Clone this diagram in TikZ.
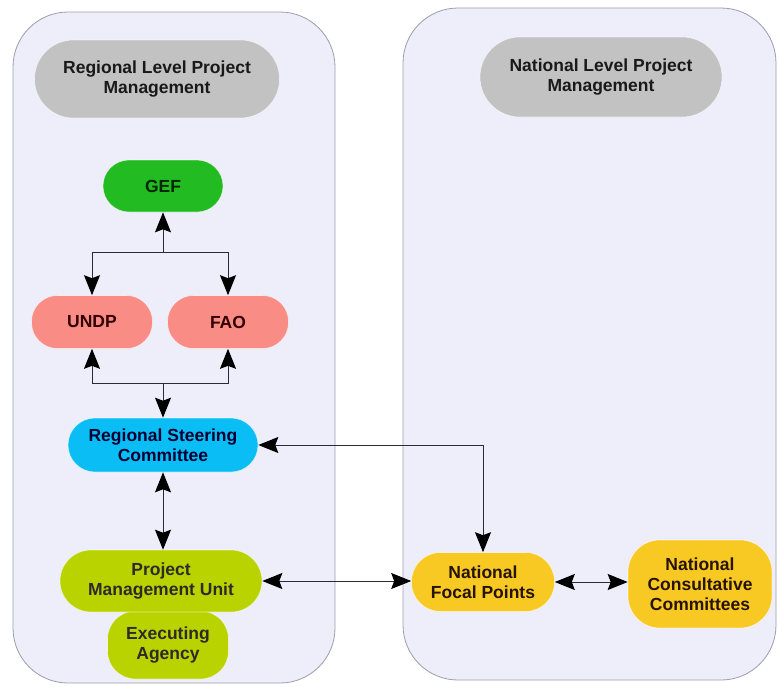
\documentclass[tikz,border=0pt]{standalone}
\usepackage{fontspec}
\setmainfont{Liberation Sans}
\usetikzlibrary{arrows.meta}
\definecolor{panelfill}{HTML}{EEEEFB}
\definecolor{panelline}{HTML}{9C9CAC}
\definecolor{headgray}{HTML}{C2C2C2}
\definecolor{gefgreen}{HTML}{22BB22}
\definecolor{salmon}{HTML}{F98C85}
\definecolor{skyblue}{HTML}{0ABEF5}
\definecolor{limey}{HTML}{B9D300}
\definecolor{gold}{HTML}{F8C923}
\definecolor{linecol}{HTML}{2A2A3A}
\tikzset{
  panel/.style={draw=panelline, fill=panelfill, line width=0.8pt, rounded corners=55},
  blob/.style={rectangle, align=center, font=\fontsize{17.5}{20}\selectfont\bfseries, inner sep=0pt, draw=white, draw opacity=0.6, line width=0.6pt},
  conn/.style={draw=linecol, line width=1pt, >={Stealth[length=20pt, width=16pt, inset=3pt, color=black]}},
}
\begin{document}
\begin{tikzpicture}[x=1pt, y=-1pt]
\useasboundingbox (0,0) rectangle (778,686);
\fill[white] (0,0) rectangle (778,686);
% panels
\draw[panel] (13,12) rectangle (335,683);
\draw[panel] (403,8) rectangle (776,680);
% headers
\node[blob, fill=headgray, minimum width=245pt, minimum height=78pt, rounded corners=39pt, text=black!90] (rhead) at (157,79) {Regional Level Project\\Management};
\node[blob, fill=headgray, minimum width=242pt, minimum height=80pt, rounded corners=40pt, text=black!90] (nhead) at (601,77) {National Level Project\\Management};
% regional nodes
\node[blob, fill=gefgreen, minimum width=120pt, minimum height=52pt, rounded corners=26pt, text=black!85!green] (gef) at (163,186) {GEF};
\node[blob, fill=salmon, minimum width=121pt, minimum height=53pt, rounded corners=26pt, text=black!80!red] (undp) at (92,322) {UNDP};
\node[blob, fill=salmon, minimum width=121pt, minimum height=53pt, rounded corners=26pt, text=black!80!red] (fao) at (228,322) {FAO};
\node[blob, fill=skyblue, minimum width=190pt, minimum height=54pt, rounded corners=27pt, text=black!80!blue] (rsc) at (163,445) {Regional Steering\\Committee};
\node[blob, fill=limey, minimum width=121pt, minimum height=68pt, rounded corners=28pt, text=black!90!olive] (ea) at (168,645) {Executing\\Agency};
\node[blob, fill=limey, minimum width=202pt, minimum height=62pt, rounded corners=31pt, text=black!90!olive] (pmu) at (161,581) {Project\\Management Unit};
% national nodes
\node[blob, fill=gold, minimum width=143pt, minimum height=59pt, rounded corners=29pt, text=black!85!orange] (nfp) at (483,582) {National\\Focal Points};
\node[blob, fill=gold, minimum width=144pt, minimum height=88pt, rounded corners=32pt, text=black!85!orange] (ncc) at (700,584) {National\\Consultative\\Committees};
% junctions
\coordinate (jtop) at (163,252);
\coordinate (jbot) at (163,383);
% connectors
\draw[conn, ->] (jtop) -- (gef.south);
\draw[conn, ->] (jtop) -| (undp.north);
\draw[conn, ->] (jtop) -| (fao.north);
\draw[conn, ->] (jbot) -| (undp.south);
\draw[conn, ->] (jbot) -| (fao.south);
\draw[conn, ->] (jbot) -- (rsc.north);
\draw[conn, <->] (rsc.east) -| (nfp.north);
\draw[conn, <->] (rsc.south) -- (rsc.south |- pmu.north);
\draw[conn, <->] (pmu.east) -- (pmu.east -| nfp.west);
\draw[conn, <->] (nfp.east) -- (nfp.east -| ncc.west);
\end{tikzpicture}
\end{document}
